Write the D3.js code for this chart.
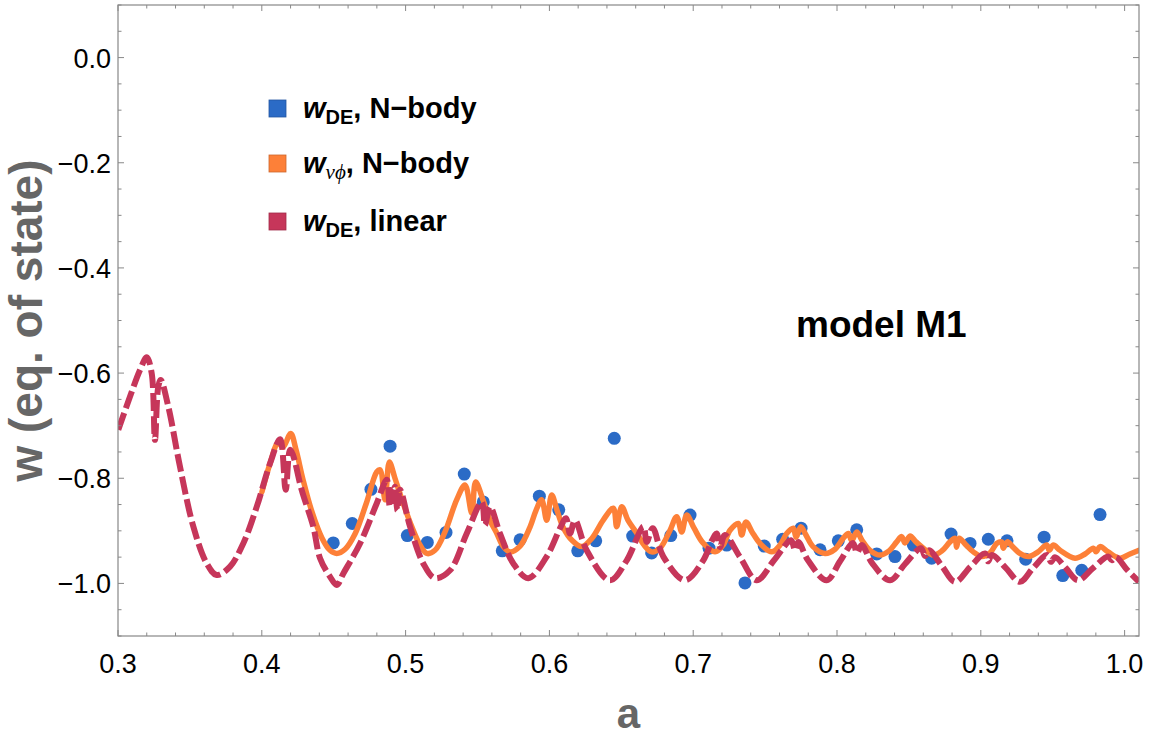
<!DOCTYPE html>
<html><head><meta charset="utf-8">
<script src="https://cdn.jsdelivr.net/npm/d3@7"></script>
<style>body{margin:0;background:#fff;} svg{display:block;}</style>
</head><body>
<svg id="c" width="1155" height="738"></svg>
<script>
// ---- data ----
const nbodyA = [0.4497,0.4629,0.4759,0.4892,0.5012,0.5151,0.5281,0.5408,0.5540,0.5672,0.5796,0.5930,0.6065,0.6197,0.6322,0.6451,0.6579,0.6711,0.6844,0.6978,0.7110,0.7233,0.7360,0.7494,0.7622,0.7750,0.7882,0.8009,0.8137,0.8276,0.8403,0.8531,0.8658,0.8793,0.8925,0.9052,0.9182,0.9312,0.9440,0.9570,0.9702,0.9829];
const nbodyW = [-0.923,-0.886,-0.821,-0.739,-0.909,-0.922,-0.903,-0.792,-0.845,-0.938,-0.917,-0.834,-0.860,-0.938,-0.919,-0.724,-0.910,-0.942,-0.909,-0.870,-0.933,-0.927,-0.999,-0.929,-0.916,-0.895,-0.936,-0.919,-0.898,-0.944,-0.949,-0.927,-0.952,-0.906,-0.924,-0.916,-0.919,-0.954,-0.912,-0.985,-0.975,-0.869];

const nuphiA = [0.4001,0.4057,0.4113,0.4147,0.4201,0.4238,0.4287,0.4349,0.4419,0.4474,0.4521,0.4579,0.4648,0.4725,0.4799,0.4822,0.4857,0.4887,0.4926,0.4975,0.5044,0.5100,0.5147,0.5204,0.5274,0.5355,0.5413,0.5460,0.5487,0.5538,0.5587,0.5633,0.5677,0.5726,0.5796,0.5865,0.5907,0.5946,0.5981,0.6016,0.6053,0.6095,0.6157,0.6225,0.6296,0.6373,0.6444,0.6468,0.6503,0.6547,0.6607,0.6658,0.6711,0.6769,0.6839,0.6885,0.6920,0.6955,0.7006,0.7068,0.7152,0.7208,0.7256,0.7314,0.7337,0.7367,0.7409,0.7465,0.7546,0.7604,0.7650,0.7696,0.7715,0.7748,0.7784,0.7833,0.7917,0.7986,0.8044,0.8079,0.8102,0.8137,0.8174,0.8229,0.8299,0.8362,0.8415,0.8450,0.8473,0.8508,0.8549,0.8600,0.8670,0.8730,0.8786,0.8821,0.8831,0.8850,0.8897,0.8948,0.9006,0.9064,0.9110,0.9145,0.9156,0.9184,0.9224,0.9272,0.9330,0.9398,0.9458,0.9476,0.9504,0.9551,0.9655,0.9725,0.9782,0.9801,0.9829,0.9885,0.9968,1.0037,1.0100];
const nuphiW = [-0.826,-0.772,-0.733,-0.741,-0.715,-0.746,-0.803,-0.864,-0.914,-0.937,-0.943,-0.935,-0.906,-0.849,-0.788,-0.784,-0.841,-0.769,-0.800,-0.841,-0.893,-0.927,-0.943,-0.937,-0.902,-0.841,-0.813,-0.866,-0.807,-0.841,-0.880,-0.904,-0.929,-0.940,-0.929,-0.893,-0.861,-0.841,-0.880,-0.832,-0.861,-0.893,-0.918,-0.930,-0.914,-0.880,-0.857,-0.892,-0.854,-0.880,-0.904,-0.927,-0.940,-0.933,-0.899,-0.873,-0.902,-0.870,-0.895,-0.923,-0.940,-0.927,-0.899,-0.886,-0.908,-0.883,-0.902,-0.924,-0.940,-0.927,-0.905,-0.895,-0.912,-0.892,-0.908,-0.930,-0.943,-0.935,-0.914,-0.905,-0.919,-0.902,-0.918,-0.937,-0.946,-0.938,-0.921,-0.911,-0.923,-0.910,-0.921,-0.933,-0.946,-0.938,-0.921,-0.914,-0.931,-0.914,-0.927,-0.940,-0.949,-0.942,-0.924,-0.921,-0.933,-0.921,-0.931,-0.943,-0.949,-0.940,-0.927,-0.937,-0.927,-0.937,-0.952,-0.944,-0.933,-0.940,-0.930,-0.940,-0.952,-0.944,-0.937];

const linearA = [0.3002,0.3083,0.3153,0.3200,0.3234,0.3257,0.3280,0.3297,0.3350,0.3431,0.3524,0.3617,0.3686,0.3779,0.3871,0.3965,0.4057,0.4127,0.4166,0.4196,0.4217,0.4277,0.4358,0.4405,0.4474,0.4521,0.4567,0.4683,0.4799,0.4869,0.4891,0.4926,0.4942,0.4961,0.5031,0.5123,0.5204,0.5309,0.5425,0.5529,0.5552,0.5587,0.5656,0.5749,0.5853,0.5981,0.6074,0.6115,0.6143,0.6178,0.6259,0.6421,0.6538,0.6653,0.6677,0.6718,0.6792,0.6943,0.7070,0.7131,0.7163,0.7186,0.7221,0.7326,0.7441,0.7562,0.7680,0.7708,0.7731,0.7798,0.7928,0.8021,0.8111,0.8139,0.8172,0.8243,0.8369,0.8473,0.8584,0.8612,0.8640,0.8730,0.8821,0.8925,0.9029,0.9050,0.9078,0.9175,0.9272,0.9363,0.9460,0.9488,0.9516,0.9592,0.9676,0.9780,0.9885,0.9912,0.9940,1.0017,1.0100];
const linearW = [-0.708,-0.645,-0.594,-0.570,-0.600,-0.727,-0.626,-0.613,-0.664,-0.778,-0.892,-0.962,-0.984,-0.968,-0.924,-0.854,-0.772,-0.726,-0.822,-0.746,-0.756,-0.822,-0.892,-0.952,-0.987,-1.003,-0.981,-0.924,-0.848,-0.803,-0.854,-0.816,-0.861,-0.822,-0.892,-0.962,-0.990,-0.975,-0.905,-0.845,-0.889,-0.854,-0.905,-0.962,-0.990,-0.949,-0.895,-0.876,-0.905,-0.880,-0.937,-0.994,-0.956,-0.892,-0.921,-0.895,-0.949,-0.994,-0.956,-0.918,-0.905,-0.931,-0.908,-0.950,-0.994,-0.956,-0.918,-0.937,-0.921,-0.956,-0.994,-0.958,-0.923,-0.942,-0.927,-0.961,-0.994,-0.963,-0.933,-0.948,-0.937,-0.967,-0.997,-0.969,-0.943,-0.958,-0.946,-0.971,-0.997,-0.971,-0.946,-0.959,-0.950,-0.971,-0.994,-0.971,-0.949,-0.956,-0.950,-0.974,-0.997];

const xTickValues = [0.3,0.4,0.5,0.6,0.7,0.8,0.9,1.0];
const yTickValues = [-1.0,-0.8,-0.6,-0.4,-0.2,0.0];
const seriesColors = ["#2b6bc6","#fd8038","#c6365a"];
const legendNames = [", N\u2212body", ", N\u2212body", ", linear"];

// ---- layout ----
const svg = d3.select("#c");
const L = 118, R = 1139, T = 5, B = 636;
const x = d3.scaleLinear().domain([0.3, 1.01]).range([L, R]);
const y = d3.scaleLinear().domain([-1.1, 0.1]).range([B, T]);

svg.append("defs").append("clipPath").attr("id","clip")
  .append("rect").attr("x",L).attr("y",T).attr("width",R-L).attr("height",B-T);

const plot = svg.append("g").attr("clip-path","url(#clip)");

// blue points
plot.selectAll("circle.nb").data(d3.zip(nbodyA, nbodyW)).join("circle")
  .attr("class","nb").attr("cx",d=>x(d[0])).attr("cy",d=>y(d[1])).attr("r",6.5)
  .attr("fill",seriesColors[0]);

const line = d3.line().x(d=>x(d[0])).y(d=>y(d[1])).curve(d3.curveCatmullRom.alpha(0.5));

plot.append("path").datum(d3.zip(nuphiA, nuphiW)).attr("d", line)
  .attr("fill","none").attr("stroke",seriesColors[1]).attr("stroke-width",5.5)
  .attr("stroke-linejoin","round").attr("stroke-linecap","round");

plot.append("path").datum(d3.zip(linearA, linearW)).attr("d", line)
  .attr("fill","none").attr("stroke",seriesColors[2]).attr("stroke-width",6)
  .attr("stroke-dasharray","18,5").attr("stroke-linejoin","round");

// frame
svg.append("rect").attr("x",L).attr("y",T).attr("width",R-L).attr("height",B-T)
  .attr("fill","none").attr("stroke","#888").attr("stroke-width",1.2);

// ticks (inside, on all four sides)
const tickG = svg.append("g").attr("stroke","#888").attr("stroke-width",1);
const xMinor = d3.range(0.3, 1.0101, 0.02);
const yMinor = d3.range(-1.1, 0.1001, 0.05);
xMinor.forEach(v => {
  const major = xTickValues.some(t => Math.abs(t - v) < 1e-6);
  const len = major ? 6 : 3.5;
  tickG.append("line").attr("x1",x(v)).attr("x2",x(v)).attr("y1",B).attr("y2",B-len);
  tickG.append("line").attr("x1",x(v)).attr("x2",x(v)).attr("y1",T).attr("y2",T+len);
});
yMinor.forEach(v => {
  const major = yTickValues.some(t => Math.abs(t - v) < 1e-6);
  const len = major ? 6 : 3.5;
  tickG.append("line").attr("y1",y(v)).attr("y2",y(v)).attr("x1",L).attr("x2",L+len);
  tickG.append("line").attr("y1",y(v)).attr("y2",y(v)).attr("x1",R).attr("x2",R-len);
});

const fmt = d3.format(".1f");
const tickFont = "'Liberation Sans', Arial, sans-serif";
svg.append("g").selectAll("text").data(xTickValues).join("text")
  .attr("x",d=>x(d)).attr("y",673).attr("text-anchor","middle")
  .attr("font-family",tickFont).attr("font-size",27).attr("fill","#000").text(d=>fmt(d));
svg.append("g").selectAll("text").data(yTickValues).join("text")
  .attr("x",111).attr("y",d=>y(d)+10).attr("text-anchor","end")
  .attr("font-family",tickFont).attr("font-size",27).attr("fill","#000").text(d=>fmt(d));

// axis labels
svg.append("text").attr("x",(L+R)/2).attr("y",728).attr("text-anchor","middle")
  .attr("font-family",tickFont).attr("font-weight","bold").attr("font-size",42)
  .attr("fill","#666").text("a");
svg.append("text").attr("transform",`translate(42,${(T+B)/2}) rotate(-90)`)
  .attr("text-anchor","middle").attr("font-family",tickFont).attr("font-weight","bold")
  .attr("font-size",46).attr("fill","#666").text("w (eq. of state)");

// model label
svg.append("text").attr("x",796).attr("y",337).attr("font-family",tickFont)
  .attr("font-weight","bold").attr("font-size",37).attr("fill","#000").text("model M1");

// legend
const legY = [108.5, 163.5, 221.5];
const leg = svg.append("g");
legY.forEach((cy, i) => {
  leg.append("rect").attr("x",269).attr("y",cy-8.5).attr("width",17).attr("height",17)
    .attr("fill",seriesColors[i]).attr("stroke",d3.color(seriesColors[i]).darker(0.6)).attr("stroke-width",0.8);
  const t = leg.append("text").attr("x",303).attr("y",cy+9).attr("font-family",tickFont)
    .attr("font-weight","bold").attr("font-size",29).attr("fill","#000");
  t.append("tspan").attr("font-style","italic").text("w");
  if (i === 1) {
    t.append("tspan").attr("font-family","'Liberation Serif', serif").attr("font-style","italic")
      .attr("font-weight","normal").attr("font-size",21).attr("dy",6).text("\u03BD\u03D5");
  } else {
    t.append("tspan").attr("font-size",20).attr("dy",6).text("DE");
  }
  t.append("tspan").attr("dy",-6).text(legendNames[i]);
});
</script>
</body></html>
